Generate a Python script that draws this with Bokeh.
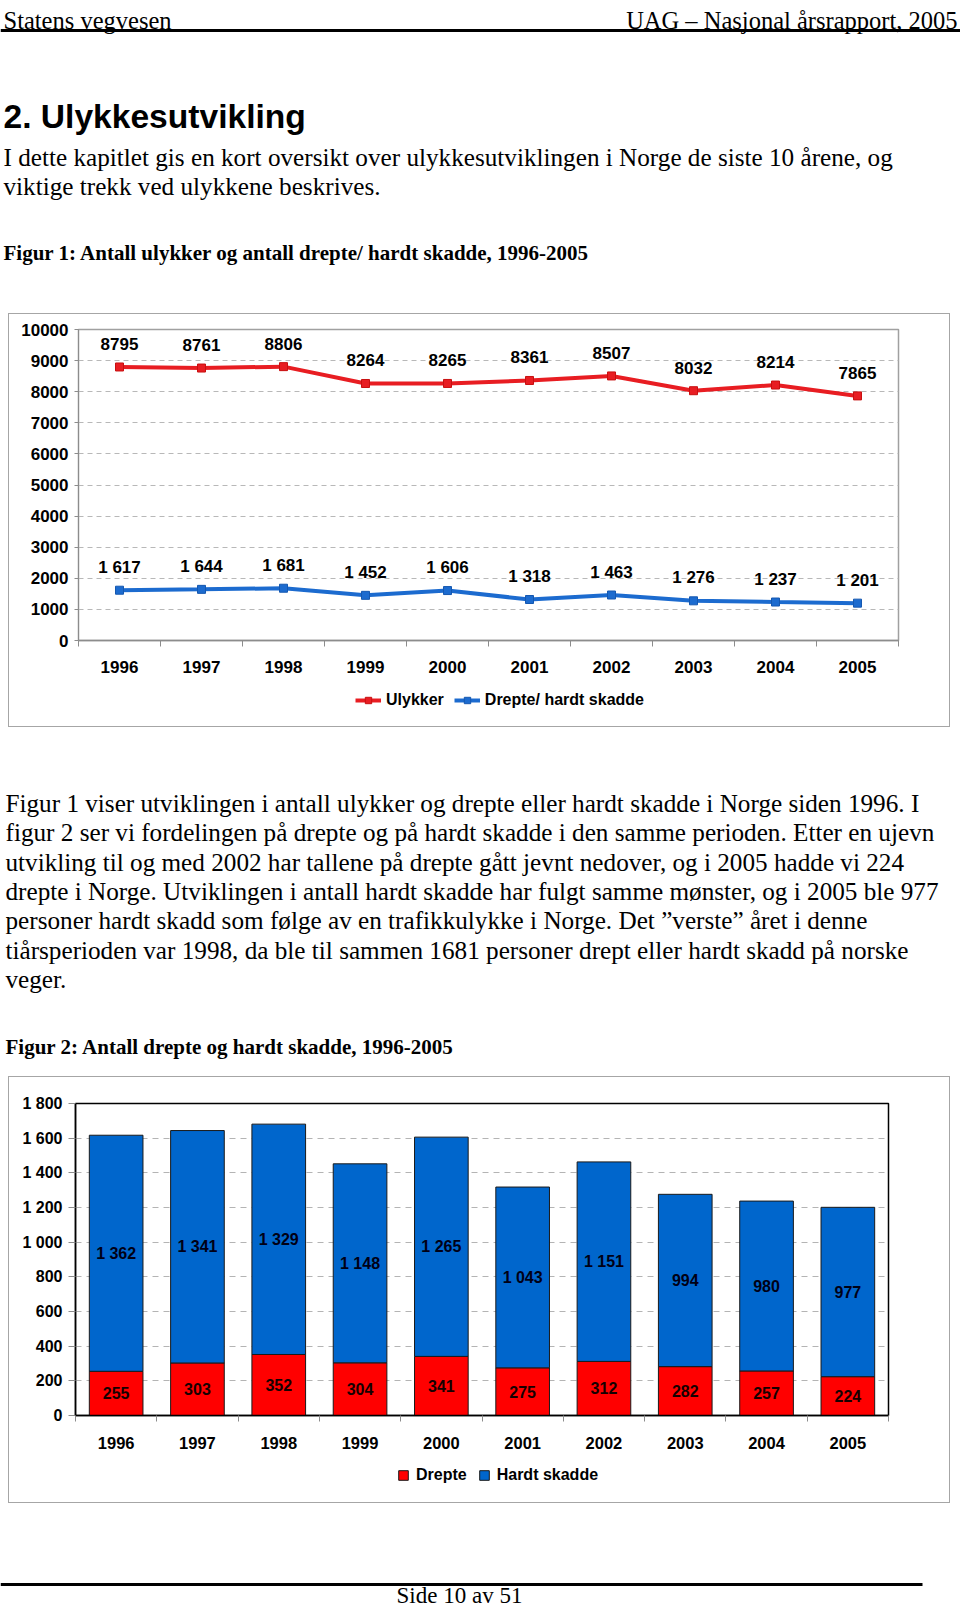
from bokeh.plotting import figure
from bokeh.models import Range1d, FixedTicker, Legend, LegendItem
from bokeh.layouts import column
from bokeh.core.properties import value
from bokeh.embed import file_html
from bokeh.resources import INLINE

# ---------------- data ----------------
years = ["1996", "1997", "1998", "1999", "2000", "2001", "2002", "2003", "2004", "2005"]
ulykker = [8795, 8761, 8806, 8264, 8265, 8361, 8507, 8032, 8214, 7865]
drepte_hardt = [1617, 1644, 1681, 1452, 1606, 1318, 1463, 1276, 1237, 1201]
drepte = [255, 303, 352, 304, 341, 275, 312, 282, 257, 224]
hardt_skadde = [1362, 1341, 1329, 1148, 1265, 1043, 1151, 994, 980, 977]
y1_ticks = [0, 1000, 2000, 3000, 4000, 5000, 6000, 7000, 8000, 9000, 10000]
y2_ticks = [0, 200, 400, 600, 800, 1000, 1200, 1400, 1600, 1800]
y2_tick_labels = ["0", "200", "400", "600", "800", "1 000", "1 200", "1 400", "1 600", "1 800"]
legend1_labels = ["Ulykker", "Drepte/ hardt skadde"]
legend2_labels = ["Drepte", "Hardt skadde"]

header_left = "Statens vegvesen"
header_right = "UAG \u2013 Nasjonal \u00e5rsrapport, 2005"
title = "2. Ulykkesutvikling"
intro = ["I dette kapitlet gis en kort oversikt over ulykkesutviklingen i Norge de siste 10 \u00e5rene, og",
         "viktige trekk ved ulykkene beskrives."]
caption1 = "Figur 1: Antall ulykker og antall drepte/ hardt skadde, 1996-2005"
body = ["Figur 1 viser utviklingen i antall ulykker og drepte eller hardt skadde i Norge siden 1996. I",
        "figur 2 ser vi fordelingen p\u00e5 drepte og p\u00e5 hardt skadde i den samme perioden. Etter en ujevn",
        "utvikling til og med 2002 har tallene p\u00e5 drepte g\u00e5tt jevnt nedover, og i 2005 hadde vi 224",
        "drepte i Norge. Utviklingen i antall hardt skadde har fulgt samme m\u00f8nster, og i 2005 ble 977",
        "personer hardt skadd som f\u00f8lge av en trafikkulykke i Norge. Det \u201dverste\u201d \u00e5ret i denne",
        "ti\u00e5rsperioden var 1998, da ble til sammen 1681 personer drept eller hardt skadd p\u00e5 norske",
        "veger."]
caption2 = "Figur 2: Antall drepte og hardt skadde, 1996-2005"
footer = "Side 10 av 51"

SERIF = "Liberation Serif"
SANS = "Liberation Sans"
RED_LINE = "#e81d22"
BLUE_LINE = "#1c6bcf"
RED_BAR = "#ff0000"
BLUE_BAR = "#0066cc"
W = 960
CW = 942
BODY_SIZE = "25.2px"
FRAME_STYLE = {"outline": "1.5px solid #a6a6a6", "outline-offset": "-1.5px"}


def fmt(v):
    return f"{v:,}".replace(",", " ")


def blank_fig(w, h, fill="white", x0=0, y0=0):
    p = figure(width=w, height=h, x_range=Range1d(x0, x0 + w), y_range=Range1d(y0 + h, y0),
               x_axis_type=None, y_axis_type=None, toolbar_location=None,
               output_backend="svg", outline_line_color=None,
               min_border_left=0, min_border_right=0, min_border_top=0, min_border_bottom=0,
               background_fill_color=fill, border_fill_color=fill)
    return p


def put(p, xs, ys, texts, font, size, style="normal", align="left"):
    p.text(x=xs, y=ys, text=texts, text_font=value(font), text_font_size=size,
           text_font_style=style, text_align=align, text_baseline="alphabetic",
           text_color="black")


def style_axes(p, size_x, size_y):
    for ax, size in ((p.xaxis, size_x), (p.yaxis, size_y)):
        ax.major_label_text_font = SANS
        ax.major_label_text_font_style = "bold"
        ax.major_label_text_font_size = size
        ax.major_label_text_color = "black"


def legend_kw():
    return dict(orientation="horizontal", border_line_color=None, background_fill_alpha=0,
                padding=0, margin=0, label_height=16,
                label_text_font=SANS, label_text_font_style="bold",
                label_text_font_size="16px", label_text_color="black")


# ---------------- top text block (screen y 0..313) ----------------
hA = 313
pa = blank_fig(W, hA)
put(pa, [3], [20], [header_left], SERIF, "24.5px")
put(pa, [957], [20], [header_right], SERIF, "24.5px", align="right")
pa.segment(x0=[0], y0=[30], x1=[W], y1=[30], line_color="black", line_width=3)
put(pa, [3], [116], [title], SANS, "33.6px", style="bold")
put(pa, [3, 3], [157, 186], intro, SERIF, BODY_SIZE)
put(pa, [3], [252], [caption1], SERIF, "21px", style="bold")

# ---------------- chart 1 (screen y 313..727) ----------------
idx = list(range(len(years)))
bounds = [i - 0.5 for i in idx] + [idx[-1] + 0.5]

p1 = figure(width=CW, height=367, x_range=Range1d(-0.5, 9.5), y_range=Range1d(0, 10000),
            toolbar_location=None, output_backend="svg",
            min_border_left=70, min_border_right=52, min_border_top=16, min_border_bottom=40,
            background_fill_color="white", border_fill_color=None)
p1.outline_line_color = "#a0a0a0"
p1.outline_line_width = 1.5
p1.xgrid.visible = False
p1.ygrid.ticker = FixedTicker(ticks=y1_ticks)
p1.ygrid.grid_line_color = "#b8b8b8"
p1.ygrid.grid_line_dash = "5 4"

p1.yaxis.ticker = FixedTicker(ticks=y1_ticks)
p1.yaxis.major_label_overrides = {t: str(t) for t in y1_ticks}
p1.yaxis.axis_line_color = "#8c8c8c"
p1.yaxis.major_tick_line_color = "#8c8c8c"
p1.yaxis.major_tick_out = 4
p1.yaxis.major_tick_in = 0
p1.yaxis.minor_tick_line_color = None
p1.yaxis.major_label_standoff = 6

p1.xaxis.ticker = FixedTicker(ticks=idx, minor_ticks=bounds)
p1.xaxis.major_label_overrides = {i: y for i, y in zip(idx, years)}
p1.xaxis.axis_line_color = "#8c8c8c"
p1.xaxis.axis_line_width = 1.5
p1.xaxis.major_tick_line_color = None
p1.xaxis.major_tick_out = 0
p1.xaxis.major_tick_in = 0
p1.xaxis.minor_tick_line_color = "#8c8c8c"
p1.xaxis.minor_tick_out = 6
p1.xaxis.minor_tick_in = 0
p1.xaxis.major_label_standoff = 14
style_axes(p1, "17px", "17px")

p1.line(idx, ulykker, line_color=RED_LINE, line_width=4)
p1.scatter(idx, ulykker, marker="square", size=8, fill_color=RED_LINE, line_color="#c81010")
p1.line(idx, drepte_hardt, line_color=BLUE_LINE, line_width=4)
p1.scatter(idx, drepte_hardt, marker="square", size=8, fill_color=BLUE_LINE, line_color="#1558b0")

p1.text(x=idx, y=ulykker, text=[str(v) for v in ulykker], y_offset=-23,
        text_align="center", text_baseline="middle", text_font=value(SANS),
        text_font_style="bold", text_font_size="17px", text_color="black")
p1.text(x=idx, y=drepte_hardt, text=[fmt(v) for v in drepte_hardt], y_offset=-23,
        text_align="center", text_baseline="middle", text_font=value(SANS),
        text_font_style="bold", text_font_size="17px", text_color="black")

# legend strip of chart 1 (screen y 680..727); its series lie outside the strip's view
l1 = blank_fig(CW, 47, fill=None, x0=1000, y0=-50000)
l1.background_fill_alpha = 0
l1r_line = l1.line(idx, ulykker, line_color=RED_LINE, line_width=4)
l1r_pts = l1.scatter(idx, ulykker, marker="square", size=8, fill_color=RED_LINE, line_color="#c81010")
l1b_line = l1.line(idx, drepte_hardt, line_color=BLUE_LINE, line_width=4)
l1b_pts = l1.scatter(idx, drepte_hardt, marker="square", size=8, fill_color=BLUE_LINE, line_color="#1558b0")
leg1 = Legend(items=[LegendItem(label=legend1_labels[0], renderers=[l1r_line, l1r_pts]),
                     LegendItem(label=legend1_labels[1], renderers=[l1b_line, l1b_pts])],
              location=(347, 18), spacing=10, label_standoff=5,
              glyph_width=26, glyph_height=16, **legend_kw())
l1.add_layout(leg1)

unit1 = column(column(p1), column(l1), spacing=0, margin=(0, 0, 0, 8), styles=FRAME_STYLE)

# ---------------- middle text block (screen y 727..1076) ----------------
top_c = 727
hC = 349
pc = blank_fig(W, hC)
put(pc, [5] * len(body), [803 + 29.3 * i - top_c for i in range(len(body))], body, SERIF, BODY_SIZE)
put(pc, [5], [1046 - top_c], [caption2], SERIF, "21px", style="bold")

# ---------------- chart 2 (screen y 1076..1503) ----------------
p2 = figure(width=CW, height=384, x_range=Range1d(-0.5, 9.5), y_range=Range1d(0, 1800),
            toolbar_location=None, output_backend="svg",
            min_border_left=67, min_border_right=62, min_border_top=27, min_border_bottom=45,
            background_fill_color="white", border_fill_color=None)
p2.outline_line_color = "black"
p2.outline_line_width = 1.5
p2.xgrid.visible = False
p2.ygrid.ticker = FixedTicker(ticks=y2_ticks)
p2.ygrid.grid_line_color = "#b4b4b4"
p2.ygrid.grid_line_dash = "6 5"

p2.yaxis.ticker = FixedTicker(ticks=y2_ticks)
p2.yaxis.major_label_overrides = {t: l for t, l in zip(y2_ticks, y2_tick_labels)}
p2.yaxis.axis_line_color = "black"
p2.yaxis.axis_line_width = 1.5
p2.yaxis.major_tick_line_color = "#8c8c8c"
p2.yaxis.major_tick_out = 7
p2.yaxis.major_tick_in = 0
p2.yaxis.minor_tick_line_color = None
p2.yaxis.major_label_standoff = 6

p2.xaxis.ticker = FixedTicker(ticks=idx, minor_ticks=bounds)
p2.xaxis.major_label_overrides = {i: y for i, y in zip(idx, years)}
p2.xaxis.axis_line_color = "black"
p2.xaxis.axis_line_width = 1.5
p2.xaxis.major_tick_line_color = None
p2.xaxis.major_tick_out = 0
p2.xaxis.major_tick_in = 0
p2.xaxis.minor_tick_line_color = "#8c8c8c"
p2.xaxis.minor_tick_out = 6
p2.xaxis.minor_tick_in = 0
p2.xaxis.major_label_standoff = 15
style_axes(p2, "16.5px", "16px")

src = {"x": idx, "Drepte": drepte, "Hardt skadde": hardt_skadde}
p2.vbar_stack(["Drepte", "Hardt skadde"], x="x", width=0.66, source=src,
              fill_color=[RED_BAR, BLUE_BAR], line_color="#1a1a1a", line_width=1)

p2.text(x=idx, y=[d / 2 for d in drepte], text=[fmt(v) for v in drepte],
        text_align="center", text_baseline="middle", text_font=value(SANS),
        text_font_style="bold", text_font_size="16px", text_color="#150000")
p2.text(x=idx, y=[d + h / 2 for d, h in zip(drepte, hardt_skadde)], text=[fmt(v) for v in hardt_skadde],
        text_align="center", text_baseline="middle", text_font=value(SANS),
        text_font_style="bold", text_font_size="16px", text_color="#000015")

# legend strip of chart 2 (screen y 1460..1503); its series lie outside the strip's view
l2 = blank_fig(CW, 43, fill=None, x0=1000, y0=-50000)
l2.background_fill_alpha = 0
l2r = l2.vbar(x=idx, top=drepte, width=0.66, fill_color=RED_BAR, line_color="#1a1a1a")
l2b = l2.vbar(x=idx, top=hardt_skadde, width=0.66, fill_color=BLUE_BAR, line_color="#1a1a1a")
leg2 = Legend(items=[LegendItem(label=legend2_labels[0], renderers=[l2r]),
                     LegendItem(label=legend2_labels[1], renderers=[l2b])],
              location=(389, 19), spacing=11, label_standoff=7,
              glyph_width=12, glyph_height=12, **legend_kw())
l2.add_layout(leg2)

unit2 = column(column(p2), column(l2), spacing=0, margin=(0, 0, 0, 8), styles=FRAME_STYLE)

# ---------------- footer (screen y 1503..1613) ----------------
top_e = 1503
hE = 110
pe = blank_fig(W, hE)
pe.segment(x0=[0], y0=[1584 - top_e], x1=[922], y1=[1584 - top_e], line_color="black", line_width=3)
put(pe, [459], [1595 - top_e], [footer], SERIF, "23px", align="center")

layout = column(column(pa), unit1, column(pc), unit2, column(pe), spacing=0)
open("out.html", "w").write(file_html(layout, INLINE))
